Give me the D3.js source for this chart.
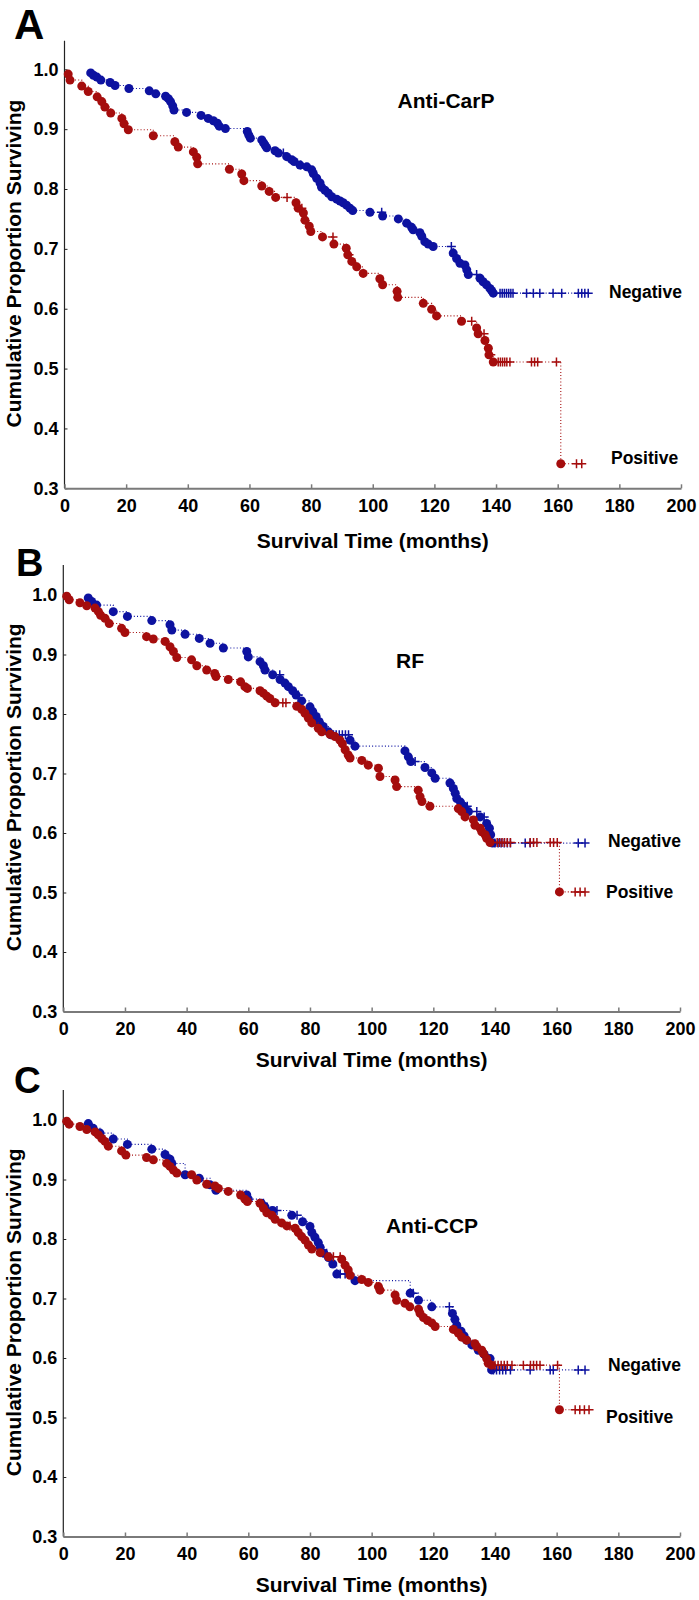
<!DOCTYPE html>
<html>
<head>
<meta charset="utf-8">
<script src="https://cdn.jsdelivr.net/npm/d3@7"></script>
<style>
html,body{margin:0;padding:0;background:#fff;}
svg{display:block;}
text{font-family:"Liberation Sans",Arial,Helvetica,sans-serif;font-weight:bold;fill:#000;}
</style>
</head>
<body>
<svg id="chart" width="699" height="1600"></svg>
<script>
// ---------- DATA ----------
const xTicks = [0, 20, 40, 60, 80, 100, 120, 140, 160, 180, 200];
const yTicks = [0.3, 0.4, 0.5, 0.6, 0.7, 0.8, 0.9, 1.0];
const groupLabels = ["Negative", "Positive"];
const panelLetters = ["A", "B", "C"];
const panelTitles = ["Anti-CarP", "RF", "Anti-CCP"];
const xTitle = "Survival Time (months)";
const yTitle = "Cumulative Proportion Surviving";

// Panel A (Anti-CarP): events [time, survival], censored times
const aNegEvents = [[8.5,.994],[9.4,.990],[10.5,.987],[11.8,.982],[14.8,.978],[16.4,.973],[20.9,.968],[27.5,.964],[29.6,.959],[32.8,.955],[33.7,.951],[34.4,.946],[35.1,.939],[35.5,.932],[39.6,.928],[44.3,.923],[46.6,.918],[48.3,.914],[49.6,.910],[50.2,.905],[52.2,.901],[59.3,.896],[59.8,.890],[60.3,.885],[64,.882],[64.6,.877],[65.1,.873],[65.6,.869],[68.3,.864],[69.4,.860],[72.1,.854],[73.7,.849],[74.5,.846],[76.4,.840],[78.6,.837],[80.2,.832],[80.7,.826],[81.8,.818],[82.9,.810],[83.4,.803],[84.5,.798],[85.6,.793],[86.7,.787],[88.3,.783],[89.4,.780],[90.4,.777],[91.5,.773],[92.6,.768],[93.5,.764],[99.1,.761],[103.2,.755],[108.3,.750],[111,.743],[112.6,.736],[113.1,.732],[115.3,.727],[115.9,.721],[116.9,.712],[118,.708],[119.6,.704],[126.1,.693],[127.2,.684],[128.3,.676],[129.9,.673],[130.5,.665],[131,.657],[134.8,.651],[135.8,.645],[136.9,.640],[138,.634],[138.6,.630],[139.1,.626]];
const aNegCensored = [71,76.6,102.9,125.5,133.7,141.3,142,142.7,143.4,144.1,144.8,145.5,149.9,152.1,154.2,158.5,161.3,166.7,167.8,168.8,169.9];
const aPosEvents = [[1.2,.992],[1.8,.982],[5.6,.972],[7.7,.963],[10.6,.954],[12.1,.946],[13.1,.937],[15,.927],[18.6,.918],[19.3,.909],[20.7,.899],[28.8,.889],[35.8,.879],[36.9,.870],[41.8,.862],[42.9,.853],[43.2,.842],[53.5,.833],[57.5,.825],[58.2,.814],[64,.805],[66.4,.796],[68.5,.786],[75.1,.777],[75.8,.768],[77.5,.760],[78,.748],[79.4,.738],[79.9,.729],[83.7,.720],[87.4,.708],[91.4,.701],[91.9,.690],[93.2,.679],[94.8,.670],[96.9,.659],[102.3,.650],[103.2,.640],[107.9,.629],[108.1,.619],[116.4,.609],[119.1,.599],[120.7,.588],[128.8,.579],[133.7,.568],[134.2,.558],[136.4,.547],[137.5,.534],[137.7,.523],[139.1,.511],[161,.341]];
const aPosCensored = [72.2,77,87.1,92.3,132.1,136.1,138.3,140.7,141.4,142.1,142.8,143.5,144.5,151.5,152.5,153.5,159.6,166.1,167.8];

// Panel B (RF)
const bNegEvents = [[8.1,.995],[9.2,.989],[10.8,.983],[16.2,.972],[20.8,.964],[28.7,.957],[34.6,.950],[35.2,.941],[39.5,.934],[44.1,.927],[47.6,.919],[51.9,.911],[59.5,.905],[60,.896],[63.8,.888],[64.9,.881],[65.4,.874],[67.9,.866],[70.3,.858],[71.9,.852],[73,.846],[74.4,.839],[75.5,.832],[77.3,.822],[80,.812],[80.9,.804],[82,.796],[83,.787],[84.3,.779],[86,.770],[86.8,.765],[93,.756],[94.6,.746],[110.8,.738],[111.9,.728],[112.7,.720],[117.3,.710],[119.5,.701],[120.6,.692],[125.4,.684],[126.5,.675],[127.1,.667],[127.6,.658],[128.8,.652],[129.9,.645],[131.4,.636],[135.2,.627],[137.3,.616],[138.2,.608],[138.6,.597],[139.2,.583]];
const bNegCensored = [70.2,76.2,87.6,88.5,89.5,90.5,91.5,92.5,114.1,125.6,131,134.1,136.5,140,141,142,143,144,145,149.8,151.4,167,169.2];
const bPosEvents = [[1.1,.998],[1.9,.992],[5.4,.987],[7.6,.982],[10.3,.978],[11.4,.972],[12.1,.966],[13.5,.961],[14.9,.952],[18.9,.944],[20,.937],[27,.930],[29.2,.926],[33,.922],[34.6,.913],[35.7,.905],[36.8,.895],[41.6,.891],[43.3,.881],[46.5,.874],[49.1,.868],[49.5,.863],[53.5,.858],[57.5,.854],[58.9,.846],[59.7,.843],[63.8,.839],[64.9,.835],[66,.830],[67,.826],[68.7,.819],[75.7,.813],[77.3,.808],[78.4,.801],[79.5,.793],[80.6,.785],[82.7,.776],[83.8,.770],[86.5,.766],[88.1,.762],[89.7,.756],[90.5,.750],[91.4,.740],[92.4,.731],[93,.726],[96.8,.722],[98.9,.714],[102.2,.709],[102.7,.695],[107.6,.689],[108.1,.678],[115.1,.672],[115.7,.661],[116.3,.653],[118.9,.645],[128.1,.641],[129.2,.636],[130.3,.627],[133,.622],[133.5,.613],[135.2,.608],[135.7,.602],[136.8,.597],[137.3,.591],[138.4,.584],[160.9,.501]];
const bPosCensored = [71.2,72.2,140.7,141.5,142.3,143.1,144,145,151.4,152.5,153.6,157.9,159,160.2,166,167.6,169.2];

// Panel C (Anti-CCP)
const cNegEvents = [[8.1,.994],[9.7,.986],[11.9,.978],[16.2,.968],[20.8,.959],[28.7,.951],[33,.942],[34.6,.934],[35.2,.927],[39.5,.908],[44.1,.902],[47.6,.891],[49.5,.882],[59.5,.874],[60,.867],[64.2,.860],[65.4,.854],[67.9,.848],[74.1,.840],[77.6,.829],[80,.821],[80.6,.811],[81.6,.803],[82.7,.794],[83.3,.786],[84.5,.776],[86,.769],[87.4,.758],[88.7,.741],[94.6,.730],[112.5,.709],[115.2,.697],[119.5,.686],[126.2,.675],[127,.665],[127.6,.655],[129,.645],[130,.637],[130.8,.630],[132.5,.622],[134.6,.613],[136.5,.606],[138.4,.599],[138.9,.580]];
const cNegCensored = [64.9,69.3,75.8,85.4,89.8,91.4,113.5,125.2,139.5,140.5,141.5,142.5,143.5,145,151.4,157.9,158.9,167,169.2];
const cPosEvents = [[1.1,.998],[1.9,.993],[5.4,.989],[7.6,.984],[10.3,.980],[11.4,.975],[12.5,.969],[13.5,.964],[14.6,.956],[18.9,.948],[20.3,.941],[27,.937],[29.2,.933],[33.5,.927],[34.6,.922],[35.7,.916],[36.8,.911],[41.6,.908],[43.3,.899],[46.5,.892],[49.2,.889],[50.3,.885],[53.5,.880],[57.5,.874],[58.9,.867],[59.7,.863],[63.8,.860],[64.9,.852],[66,.844],[67.6,.840],[68.7,.833],[70.8,.827],[72.5,.822],[75.2,.818],[76.2,.811],[77.3,.804],[78.4,.798],[79.5,.790],[80.6,.783],[83.3,.777],[86,.770],[90.3,.766],[91.4,.756],[92.4,.748],[93,.739],[96.8,.732],[98.9,.727],[102.2,.720],[102.7,.714],[107.6,.706],[108.1,.697],[110.8,.692],[112.4,.686],[115.2,.682],[115.7,.675],[116.8,.668],[118.1,.663],[119.5,.659],[120.6,.653],[126.5,.648],[128.1,.642],[129.2,.635],[130.8,.630],[133.5,.624],[134.1,.619],[135.7,.613],[136.2,.608],[137.3,.599],[137.8,.591],[138.9,.588],[160.9,.513]];
const cPosCensored = [73.5,87.6,89.8,140,141,142,143,144,145.5,149.2,151.5,152.5,153.5,154.6,160.3,166,167.5,169,170.5];

// ---------- LAYOUT ----------
const colors = {neg: "#0d12a0", pos: "#a50d0d"};
const layout = [
  {x0: 64.5, x1: 681, yTop: 40.7, y10: 69.3, y03: 488.3, letterX: 14, letterY: 39, letterSize: 42,
   titleX: 446, titleY: 100, xTitleY: 541, negX: 609, negY: 292, posX: 611, posY: 458},
  {x0: 63.3, x1: 680, yTop: 565, y10: 595, y03: 1011.5, letterX: 16, letterY: 576, letterSize: 38,
   titleX: 410, titleY: 660, xTitleY: 1060, negX: 608, negY: 841, posX: 606, posY: 892},
  {x0: 63.3, x1: 680, yTop: 1090, y10: 1120, y03: 1536.5, letterX: 14, letterY: 1093, letterSize: 37,
   titleX: 432, titleY: 1225, xTitleY: 1585, negX: 608, negY: 1365, posX: 606, posY: 1417}
];
const panelData = [
  {neg: aNegEvents, negC: aNegCensored, pos: aPosEvents, posC: aPosCensored},
  {neg: bNegEvents, negC: bNegCensored, pos: bPosEvents, posC: bPosCensored},
  {neg: cNegEvents, negC: cNegCensored, pos: cPosEvents, posC: cPosCensored}
];

const svg = d3.select("#chart");

function levelAt(events, t) {
  let s = 1;
  for (const e of events) { if (e[0] <= t) s = e[1]; else break; }
  return s;
}

layout.forEach((L, i) => {
  const D = panelData[i];
  const g = svg.append("g");
  const x = d3.scaleLinear().domain([0, 200]).range([L.x0, L.x1]);
  const y = d3.scaleLinear().domain([0.3, 1.0]).range([L.y03, L.y10]);

  // y axis
  const ya = g.append("g").attr("transform", `translate(${L.x0},0)`)
    .call(d3.axisLeft(y).tickValues(yTicks).tickFormat(d3.format(".1f"))
      .tickSize(-3).tickSizeOuter(0).tickPadding(6));
  ya.select(".domain").remove();
  ya.selectAll(".tick line").attr("stroke", "#222").attr("stroke-width", 1);
  ya.selectAll(".tick text").style("font-size", "18px").attr("fill", "#000");
  g.append("line").attr("x1", L.x0).attr("x2", L.x0).attr("y1", L.yTop).attr("y2", L.y03)
    .attr("stroke", "#222").attr("stroke-width", 1.2);

  // x axis
  const xa = g.append("g").attr("transform", `translate(0,${L.y03})`)
    .call(d3.axisBottom(x).tickValues(xTicks).tickSize(-4).tickSizeOuter(0).tickPadding(11));
  xa.select(".domain").attr("stroke", "#7a7a7a").attr("stroke-width", 2);
  xa.selectAll(".tick line").attr("stroke", "#7a7a7a").attr("stroke-width", 1.5);
  xa.selectAll(".tick text").style("font-size", "18px").attr("fill", "#000");

  // titles
  g.append("text").attr("x", L.letterX).attr("y", L.letterY).style("font-size", L.letterSize + "px")
    .text(panelLetters[i]);
  g.append("text").attr("x", L.titleX).attr("y", L.titleY + 7.5).attr("text-anchor", "middle")
    .style("font-size", "21px").text(panelTitles[i]);
  g.append("text").attr("x", (L.x0 + L.x1) / 2).attr("y", L.xTitleY + 7).attr("text-anchor", "middle")
    .style("font-size", "21px").text(xTitle);
  g.append("text").attr("transform", `translate(20.5,${(L.yTop + L.y03) / 2 - 1}) rotate(-90)`)
    .attr("text-anchor", "middle").style("font-size", "21px").text(yTitle);
  g.append("text").attr("x", L.negX).attr("y", L.negY + 6.3).style("font-size", "17.5px").text(groupLabels[0]);
  g.append("text").attr("x", L.posX).attr("y", L.posY + 6.3).style("font-size", "17.5px").text(groupLabels[1]);

  const line = d3.line().x(d => x(d[0])).y(d => y(d[1])).curve(d3.curveStepAfter);
  const plus = "M-4.5,0H4.5M0,-4.5V4.5";

  [["neg", D.neg, D.negC], ["pos", D.pos, D.posC]].forEach(([key, ev, cens]) => {
    const col = colors[key];
    const cPts = cens.map(t => [t, levelAt(ev, t)]);
    const all = ev.concat(cPts).sort((a, b) => a[0] - b[0]);
    const pts = all.map(p => [p[0], levelAt(ev, p[0])]);
    g.append("path").datum(pts).attr("d", line).attr("fill", "none")
      .attr("stroke", col).attr("stroke-width", 1.1).attr("stroke-dasharray", "1,2.2");
    g.selectAll(null).data(ev).enter().append("circle")
      .attr("cx", d => x(d[0])).attr("cy", d => y(d[1])).attr("r", 4.5).attr("fill", col);
    g.selectAll(null).data(cPts).enter().append("path")
      .attr("d", plus).attr("transform", d => `translate(${x(d[0])},${y(d[1])})`)
      .attr("stroke", col).attr("stroke-width", 1.5).attr("fill", "none");
  });
});
</script>
</body>
</html>
